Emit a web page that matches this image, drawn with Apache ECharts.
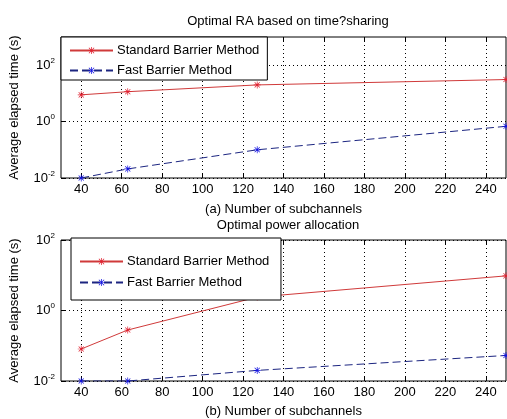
<!DOCTYPE html>
<html>
<head>
<meta charset="utf-8">
<script src="https://cdn.jsdelivr.net/npm/echarts@6/dist/echarts.min.js"></script>
<style>
  html, body { margin: 0; padding: 0; background: #fff; }
  #chart { width: 507px; height: 419px; }
</style>
</head>
<body>
<div id="chart"></div>
<script>
  // number of subchannels
  var xValues = [40, 63, 127, 250];
  var xTicks = [40, 60, 80, 100, 120, 140, 160, 180, 200, 220, 240];
  // (a) RA based on time-sharing
  var raStandard = [8.9, 11.5, 20, 31];
  var raFast = [0.01, 0.021, 0.1, 0.68];
  var raTicks = [0.01, 1, 100];
  // (b) power allocation
  var paStandard = [0.081, 0.28, 2.4, 9.6];
  var paFast = [0.01, 0.01, 0.02, 0.053];
  var paTicks = [0.01, 1, 100];

  var FONT = 'Liberation Sans';
  // matlab style '*' marker
  var star = 'path://M4.5 0H5.5V10H4.5Z M0 4.5H10V5.5H0Z M1 1.7L1.7 1L9 8.3L8.3 9Z M8.3 1L9 1.7L1.7 9L1 8.3Z';

  function pairs(ys) {
    return xValues.map(function (x, i) { return [x, ys[i]]; });
  }

  function powLabel(v) {
    var e = Math.round(Math.log10(v));
    return '{b|10}{s|' + e + '}';
  }

  function xAxisOf(idx, name) {
    return [{
      type: 'value', gridIndex: idx, min: 30, max: 250,
      name: name, nameLocation: 'middle', nameGap: idx === 0 ? 25 : 24,
      nameTextStyle: { fontFamily: FONT, fontSize: 13, color: '#000' },
      axisLine: { show: false },
      axisTick: { inside: true, length: 4, customValues: xTicks, lineStyle: { color: '#000' } },
      axisLabel: { customValues: xTicks, fontFamily: FONT, fontSize: 13, color: '#000', margin: 5 },
      splitLine: { show: true, lineStyle: { color: '#000', type: [1, 3], width: 1 } }
    }, {
      type: 'value', gridIndex: idx, min: 30, max: 250, position: 'top',
      axisLine: { show: false },
      axisTick: { inside: true, length: 4, customValues: xTicks, lineStyle: { color: '#000' } },
      axisLabel: { show: false },
      splitLine: { show: false }
    }];
  }

  function yAxisOf(idx, max, ticks) {
    return {
      type: 'log', logBase: 10, gridIndex: idx, min: 0.01, max: max,
      name: 'Average elapsed time (s)', nameLocation: 'middle', nameGap: 40,
      nameTextStyle: { fontFamily: FONT, fontSize: 13, color: '#000' },
      axisLine: { show: false },
      axisTick: { inside: true, length: 4, customValues: ticks, lineStyle: { color: '#000' } },
      axisLabel: {
        customValues: ticks, formatter: powLabel, margin: 6,
        rich: {
          b: { fontFamily: FONT, fontSize: 13, color: '#000' },
          s: { fontFamily: FONT, fontSize: 8, color: '#000', padding: [0, 0, 9, 0] }
        }
      },
      splitLine: { show: true, lineStyle: { color: '#000', type: [1, 3], width: 1 } }
    };
  }

  function seriesOf(name, data, idx, dashed) {
    return {
      name: name, type: 'line', xAxisIndex: idx * 2, yAxisIndex: idx,
      data: pairs(data), symbol: star, symbolSize: 7,
      itemStyle: { color: dashed ? '#1010e0' : '#e02030' },
      lineStyle: { color: dashed ? '#1c2580' : '#d03a3a', width: 1, type: dashed ? [8, 4] : 'solid' },
      emphasis: { disabled: true },
      animation: false
    };
  }

  var legendBase = {
    orient: 'vertical', backgroundColor: '#fff', borderColor: '#000', borderWidth: 1,
    itemWidth: 43, itemHeight: 9, borderRadius: 0,
    textStyle: { fontFamily: FONT, fontSize: 13, color: '#000', padding: [0, 0, 0, -1] },
    selectedMode: false
  };

  var chart = echarts.init(document.getElementById('chart'));
  chart.setOption({
    backgroundColor: '#fff',
    animation: false,
    title: [
      { text: 'Optimal RA based on time?sharing', left: 283, top: 10, textAlign: 'center',
        textStyle: { fontFamily: FONT, fontSize: 13, fontWeight: 'normal', color: '#000' } },
      { text: 'Optimal power allocation', left: 283, top: 214, textAlign: 'center',
        textStyle: { fontFamily: FONT, fontSize: 13, fontWeight: 'normal', color: '#000' } }
    ],
    grid: [
      { left: 60, right: 1, top: 37, height: 141, show: true, borderColor: '#000', borderWidth: 1 },
      { left: 60, right: 1, top: 240, height: 143, show: true, borderColor: '#000', borderWidth: 1 }
    ],
    legend: [
      Object.assign({}, legendBase, { left: 61, top: 37, itemGap: 7, padding: [7, 8, 3, 8],
        data: ['Standard Barrier Method', 'Fast Barrier Method'] }),
      Object.assign({}, legendBase, { left: 71, top: 238, itemGap: 8, padding: [17, 8, 11, 8],
        data: ['Standard Barrier Method ', 'Fast Barrier Method '] })
    ],
    xAxis: xAxisOf(0, '(a) Number of subchannels').concat(xAxisOf(1, '(b) Number of subchannels')),
    yAxis: [yAxisOf(0, 1000, raTicks), yAxisOf(1, 100, paTicks)],
    series: [
      seriesOf('Standard Barrier Method', raStandard, 0, false),
      seriesOf('Fast Barrier Method', raFast, 0, true),
      seriesOf('Standard Barrier Method ', paStandard, 1, false),
      seriesOf('Fast Barrier Method ', paFast, 1, true)
    ]
  });
</script>
</body>
</html>
